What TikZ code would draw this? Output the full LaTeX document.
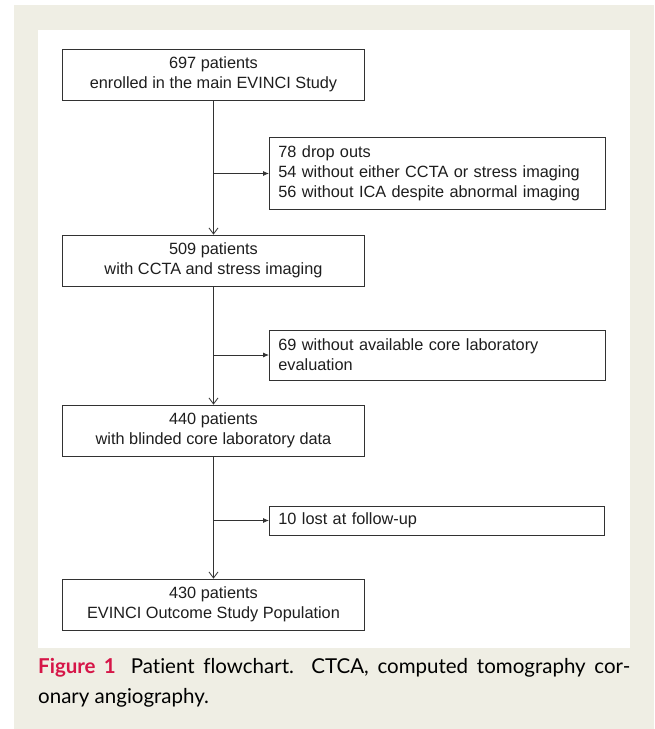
\documentclass[tikz,border=0pt]{standalone}
\usepackage{fontspec}
\setmainfont{Liberation Sans}
\newfontfamily\capfont[Ligatures=NoCommon]{Lato}
\usetikzlibrary{arrows.meta}
\definecolor{panelbg}{RGB}{239,238,228}
\definecolor{linegrey}{RGB}{50,50,50}
\definecolor{textgrey}{RGB}{30,30,30}
\definecolor{figred}{RGB}{214,22,72}
\begin{document}
\begin{tikzpicture}[x=1pt,y=-1pt,
  mainbox/.style={draw=linegrey, line width=0.8pt, fill=white, minimum width=302pt, minimum height=51pt,
    align=center, inner sep=0pt, text=textgrey, font=\fontsize{16.3}{20}\selectfont},
  sidebox/.style={draw=linegrey, line width=0.8pt, fill=white, anchor=west, inner xsep=9pt, inner ysep=0pt,
    text width=#1, align=left, text=textgrey, font=\fontsize{16.3}{20}\selectfont},
  vline/.style={draw=linegrey, line width=0.8pt, -{Straight Barb[length=6pt,width=9pt,line width=0.8pt]}},
  hline/.style={draw=linegrey, line width=0.8pt, -{Latex[length=6pt,width=5pt]}},
  captext/.style={anchor=base west, inner sep=0pt, text=black, font=\capfont\fontsize{20.5}{30}\selectfont}
]
\useasboundingbox (0,0) rectangle (654,729);
\fill[panelbg] (14,5) rectangle (654,729);
\fill[white] (38,30) rectangle (630,648);

\node[mainbox] (b1) at (213.5,74.5) {697 patients\\enrolled in the main EVINCI Study};
\node[mainbox] (b2) at (213.5,260.5) {509 patients\\with CCTA and stress imaging};
\node[mainbox] (b3) at (213.5,430.5) {440 patients\\with blinded core laboratory data};
\node[mainbox] (b4) at (213.5,604.5) {430 patients\\EVINCI Outcome Study Population};

\node[sidebox=318pt, minimum height=72pt] (s1) at (269,173.5) {78 drop outs\\54 without either CCTA or stress imaging\\56 without ICA despite abnormal imaging};
\node[sidebox=318pt, minimum height=50pt] (s2) at (269,355) {69 without available core laboratory\\evaluation};
\node[sidebox=317pt, minimum height=29pt] (s3) at (269,520.5) {10 lost at follow-up};

\draw[vline] (b1.south) -- (b2.north);
\draw[vline] (b2.south) -- (b3.north);
\draw[vline] (b3.south) -- (b4.north);

\draw[hline] (b1.south |- s1.west) -- (s1.west);
\draw[hline] (b2.south |- s2.west) -- (s2.west);
\draw[hline] (b3.south |- s3.west) -- (s3.west);

\node[captext] (cap1) at (38,673) {\hbox to 592pt{\textcolor{figred}{\bfseries Figure 1}\hspace{15pt}Patient flowchart. CTCA, computed tomography cor-}};
\node[captext] (cap2) at (38,703) {onary angiography.};
\end{tikzpicture}
\end{document}
